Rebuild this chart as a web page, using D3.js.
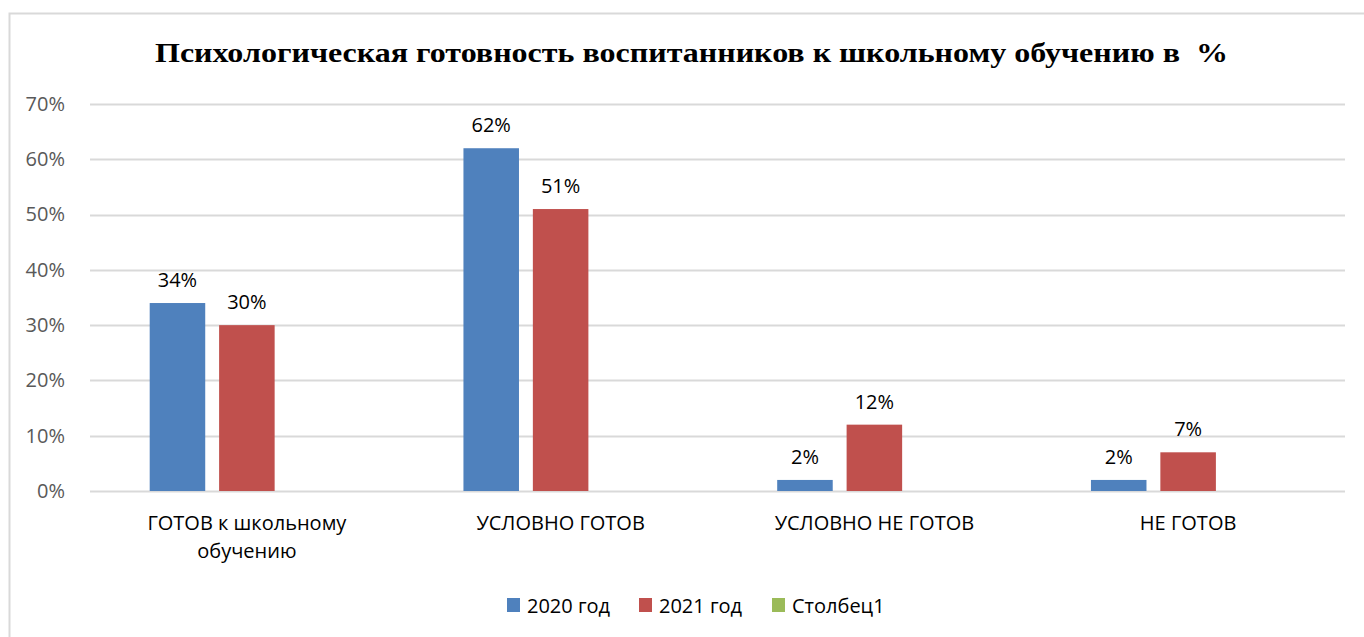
<!DOCTYPE html>
<html>
<head>
<meta charset="utf-8">
<script src="https://cdn.jsdelivr.net/npm/d3@7"></script>
<style>
  body { margin: 0; background: #fff; }
  svg { display: block; }
</style>
</head>
<body>
<div id="chart"></div>
<script>
// chart data
const categories = [['ГОТОВ к школьному', 'обучению'], ['УСЛОВНО ГОТОВ'], ['УСЛОВНО НЕ ГОТОВ'], ['НЕ ГОТОВ']];
const seriesNames = ['2020 год', '2021 год', 'Столбец1'];
const values2020 = [34, 62, 2, 2];
const values2021 = [30, 51, 12, 7];
const valuesCol1 = [null, null, null, null];
const yTicks = [0, 10, 20, 30, 40, 50, 60, 70];
const colors = ['#4f81bd', '#c0504d', '#9bbb59'];

const width = 1364, height = 637;
const margin = {left: 90, right: 19, top: 104, bottom: 146};
const font = '"Open Sans", "Noto Sans", sans-serif';

const svg = d3.select('#chart').append('svg')
  .attr('width', width)
  .attr('height', height);

// outer frame
svg.append('rect')
  .attr('x', 9.5).attr('y', 13.5)
  .attr('width', width + 10).attr('height', height + 10)
  .attr('fill', 'none')
  .attr('stroke', '#d9d9d9')
  .attr('stroke-width', 2);

// title, stretched like in the picture
svg.append('text')
  .attr('x', 155).attr('y', 62)
  .attr('xml:space', 'preserve')
  .style('white-space', 'pre')
  .attr('font-family', '"Liberation Serif", "Times New Roman", serif')
  .attr('font-weight', 'bold')
  .attr('font-size', 28)
  .attr('textLength', 1073)
  .attr('lengthAdjust', 'spacingAndGlyphs')
  .text('Психологическая готовность воспитанников к школьному обучению в  %');

const x = d3.scaleBand()
  .domain(d3.range(categories.length))
  .range([margin.left, width - margin.right]);

const x1 = d3.scaleBand()
  .domain(d3.range(seriesNames.length))
  .range([0, x.bandwidth()])
  .paddingInner(0.2)
  .paddingOuter(0.86);

const y = d3.scaleLinear()
  .domain([0, 70])
  .range([height - margin.bottom, margin.top]);

// gridlines
svg.append('g')
  .selectAll('line')
  .data(yTicks)
  .join('line')
  .attr('x1', margin.left).attr('x2', width - margin.right)
  .attr('y1', d => Math.round(y(d)) + 0.5).attr('y2', d => Math.round(y(d)) + 0.5)
  .attr('stroke', '#d9d9d9')
  .attr('stroke-width', 2);

// y axis labels
const yAxis = svg.append('g')
  .attr('transform', `translate(${margin.left - 22},0)`)
  .call(d3.axisLeft(y).tickValues(yTicks).tickFormat(d => d + '%').tickSize(0));
yAxis.select('.domain').remove();
yAxis.selectAll('text')
  .attr('fill', '#595959')
  .attr('font-family', font)
  .attr('font-size', 20);

const series = [values2020, values2021, valuesCol1];

const groups = svg.append('g')
  .selectAll('g')
  .data(categories)
  .join('g')
  .attr('transform', (d, i) => `translate(${x(i)},0)`);

series.forEach((vals, s) => {
  groups.append('rect')
    .datum((d, i) => vals[i])
    .filter(v => v != null)
    .attr('x', x1(s))
    .attr('width', x1.bandwidth())
    .attr('y', v => y(v))
    .attr('height', v => y(0) - y(v))
    .attr('fill', colors[s]);

  groups.append('text')
    .datum((d, i) => vals[i])
    .filter(v => v != null)
    .attr('x', x1(s) + x1.bandwidth() / 2)
    .attr('y', v => y(v) - 16)
    .attr('text-anchor', 'middle')
    .attr('font-family', font)
    .attr('font-size', 20)
    .attr('fill', '#000')
    .text(v => v + '%');
});

// category labels
groups.append('text')
  .attr('x', x.bandwidth() / 2)
  .attr('y', height - margin.bottom + 39)
  .attr('text-anchor', 'middle')
  .attr('font-family', font)
  .attr('font-size', 20)
  .attr('fill', '#000')
  .selectAll('tspan')
  .data(d => d)
  .join('tspan')
  .attr('x', x.bandwidth() / 2)
  .attr('dy', (d, i) => i ? 28 : 0)
  .text(d => d);

// legend
const legendX = [507, 639, 772];
const legend = svg.append('g')
  .selectAll('g')
  .data(seriesNames)
  .join('g')
  .attr('transform', (d, i) => `translate(${legendX[i]},598)`);
legend.append('rect')
  .attr('width', 13).attr('height', 14)
  .attr('fill', (d, i) => colors[i]);
legend.append('text')
  .attr('x', 20).attr('y', 15)
  .attr('font-family', font)
  .attr('font-size', 20)
  .attr('fill', '#000')
  .text(d => d);
</script>
</body>
</html>
